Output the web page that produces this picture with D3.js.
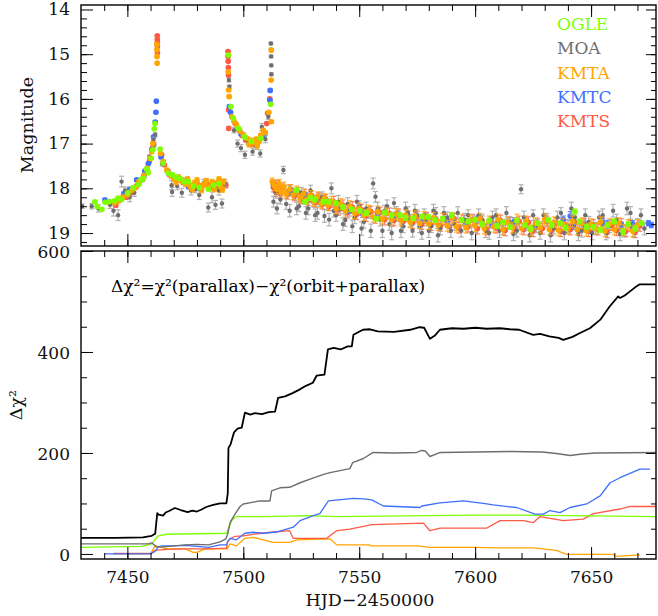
<!DOCTYPE html>
<html>
  <head>
      <meta charset="utf-8">
      <title>Light curve and cumulative chi2</title>
      <script type="text/javascript" src="https://d3js.org/d3.v7.min.js"></script>
      <style>
        body { margin: 0; background: #fff; }
        text { font-family: "DejaVu Serif", serif; }
      </style>
  </head>
  <body>

    <script type="text/javascript">
    var w = 658;
    var h = 616;

    // light curve points: [HJD-2450000, magnitude, error]
    var ogle = [
      [7436.0,18.30,0.03],[7437.0,18.41,0.03],[7439.0,18.47,0.03],[7440.4,18.31,0.03],[7442.0,18.30,0.03],
      [7444.5,18.28,0.03],[7446.0,18.22,0.03],[7447.5,18.25,0.03],[7450.2,18.10,0.03],[7452.5,17.98,0.03],
      [7454.7,17.92,0.03],[7456.0,17.80,0.03],[7456.9,17.78,0.03],[7458.3,17.57,0.03],[7459.0,17.65,0.03],
      [7460.3,17.33,0.02],[7460.9,17.14,0.02],[7461.6,16.67,0.02],[7461.9,16.55,0.02],[7464.1,17.12,0.02],
      [7465.5,17.44,0.02],[7467.7,17.66,0.02],[7469.5,17.70,0.03],[7471.0,17.75,0.03],[7472.7,17.78,0.03],
      [7474.5,17.86,0.03],[7476.3,17.85,0.03],[7478.5,17.95,0.03],[7481.0,17.98,0.03],[7484.9,18.02,0.03],
      [7487.1,17.93,0.03],[7489.5,17.90,0.03],
      [7493.6,15.02,0.02],[7494.7,16.17,0.02],[7495.7,16.43,0.02],[7497.9,16.66,0.02],[7500.7,16.85,0.02],
      [7503.5,16.95,0.03],[7507.6,16.88,0.03],[7511.8,16.12,0.02],
      [7523.0,18.04,0.05],[7526.6,18.30,0.05],[7529.0,18.22,0.05],[7530.9,18.25,0.05],[7534.5,18.30,0.05],
      [7536.7,18.30,0.05],[7540.0,18.33,0.05],[7543.0,18.42,0.05],[7546.8,18.47,0.05],[7550.3,18.50,0.05],
      [7553.0,18.55,0.05],[7557.5,18.68,0.05],[7561.0,18.54,0.05],[7564.0,18.60,0.05],[7567.6,18.60,0.05],
      [7570.0,18.66,0.05],[7573.3,18.67,0.05],[7577.0,18.63,0.05],[7579.8,18.64,0.05],[7582.7,18.71,0.05],
      [7586.0,18.68,0.05],[7589.9,18.60,0.05],[7594.2,18.71,0.05],[7597.0,18.74,0.05],[7600.0,18.70,0.05],
      [7603.0,18.80,0.06],[7606.0,18.72,0.05],[7609.5,18.84,0.06],[7612.0,18.76,0.05],[7615.0,18.86,0.06],
      [7618.0,18.72,0.05],[7621.5,18.82,0.05],[7624.0,18.90,0.06],[7627.0,18.78,0.05],[7631.6,18.71,0.05],
      [7633.0,18.82,0.05],[7636.6,18.78,0.05],[7639.0,18.88,0.06],[7643.0,18.52,0.06],[7645.0,18.74,0.05],
      [7648.0,18.86,0.06],[7651.0,18.86,0.05],[7653.9,18.93,0.06],[7657.0,18.82,0.05],[7660.0,18.74,0.05],
      [7663.8,18.97,0.06],[7666.0,18.80,0.05],[7669.0,18.90,0.06],[7671.8,18.78,0.05]
    ];
    var moa = [
      [7430.5,18.40,0.05],[7434.6,18.40,0.06],[7437.5,18.45,0.08],[7442.5,18.37,0.08],[7444.0,18.50,0.12],
      [7446.0,18.60,0.12],[7447.5,17.85,0.12],[7449.0,18.05,0.08],[7451.0,18.20,0.10],[7453.0,18.10,0.08],
      [7455.5,17.85,0.08],[7457.5,17.70,0.06],[7459.5,17.30,0.05],[7461.2,16.92,0.05],[7461.6,17.02,0.05],
      [7462.0,16.80,0.04],[7465.0,17.45,0.05],[7469.1,17.93,0.10],[7469.3,18.08,0.10],[7471.5,17.95,0.08],
      [7473.5,18.10,0.10],[7475.5,17.85,0.08],[7477.5,18.05,0.10],[7479.2,18.02,0.08],[7481.0,18.15,0.10],
      [7483.0,17.88,0.08],[7484.9,18.43,0.10],[7486.5,18.20,0.12],[7488.0,18.37,0.10],[7489.5,18.05,0.10],
      [7490.8,18.34,0.10],[7492.1,17.89,0.08],
      [7493.8,15.58,0.04],[7494.0,15.73,0.04],[7496.0,16.70,0.06],[7497.5,17.00,0.08],[7499.0,17.10,0.08],
      [7500.7,17.25,0.08],[7502.0,16.95,0.06],[7504.0,17.18,0.08],[7505.5,17.05,0.08],[7507.3,17.22,0.08],
      [7508.0,16.63,0.08],[7509.5,16.90,0.08],[7510.8,16.40,0.06],[7511.9,14.76,0.03],[7511.95,14.90,0.03],
      [7512.0,15.05,0.03],[7512.05,15.25,0.03],[7512.1,15.45,0.03],
      [7513.0,18.30,0.12],[7514.0,18.10,0.12],[7514.5,18.45,0.12],[7516.0,18.25,0.10],[7517.3,17.59,0.08],
      [7518.5,18.35,0.12],[7519.5,18.05,0.12],[7520.0,18.50,0.14],[7522.0,18.15,0.10],[7523.0,18.45,0.14],
      [7524.0,18.40,0.12],[7525.0,18.10,0.12],[7526.0,18.25,0.10],[7527.0,18.55,0.14],[7528.0,18.45,0.14],
      [7529.0,18.05,0.12],[7530.0,18.30,0.12],[7531.0,18.60,0.14],[7532.0,18.55,0.14],[7533.0,18.25,0.12],
      [7534.0,18.20,0.12],[7535.0,18.62,0.14],[7536.0,18.35,0.12],[7537.0,18.70,0.14],[7538.0,18.00,0.12],
      [7539.0,18.50,0.14],[7540.0,18.60,0.14],[7541.0,18.30,0.14],[7542.0,18.45,0.12],[7543.0,18.80,0.14],
      [7544.0,18.71,0.14],[7545.0,18.35,0.14],[7546.0,18.50,0.12],[7547.0,18.85,0.14],[7548.0,18.65,0.14],
      [7549.0,18.30,0.14],[7550.0,18.40,0.12],[7551.0,18.90,0.15],[7552.0,18.75,0.14],[7553.0,18.45,0.14],
      [7554.0,18.55,0.12],[7555.0,18.95,0.15],[7556.0,17.89,0.12],[7557.0,18.19,0.12],[7558.0,18.45,0.14],
      [7559.0,18.70,0.14],[7560.0,18.95,0.15],[7561.0,18.50,0.12],[7562.0,18.40,0.14],[7563.0,18.80,0.14],
      [7564.0,19.00,0.15],[7565.0,18.33,0.12],[7566.0,18.55,0.14],[7567.0,18.62,0.12],[7568.0,18.95,0.15],
      [7569.0,18.85,0.14],[7570.0,18.45,0.14],[7571.0,18.55,0.14],[7572.0,18.72,0.14],[7573.0,18.95,0.14],
      [7574.0,18.50,0.14],[7575.0,18.60,0.12],[7576.0,18.85,0.14],[7577.0,19.00,0.14],[7578.0,18.60,0.14],
      [7579.0,18.70,0.14],[7580.0,18.95,0.15],[7581.0,18.85,0.14],[7582.0,18.50,0.14],[7583.0,18.55,0.12],
      [7584.0,19.05,0.15],[7585.0,18.90,0.14],[7586.5,18.55,0.14],[7588.0,18.65,0.12],[7589.5,18.95,0.15],
      [7591.0,18.80,0.14],[7592.5,18.55,0.14],[7594.0,18.95,0.14],[7595.5,18.70,0.14],[7597.0,18.60,0.12],
      [7598.5,19.00,0.15],[7600.0,18.85,0.14],[7601.5,18.60,0.14],[7603.0,18.70,0.12],[7604.5,18.95,0.15],
      [7606.0,19.00,0.14],[7607.5,18.65,0.14],[7609.0,18.60,0.14],[7610.5,18.95,0.15],[7612.0,18.90,0.14],
      [7613.5,18.55,0.14],[7615.0,18.75,0.12],[7616.5,19.02,0.15],[7618.0,18.95,0.14],[7619.8,18.02,0.10],
      [7621.0,18.65,0.14],[7622.0,18.80,0.14],[7623.5,19.05,0.15],[7625.0,18.60,0.12],[7626.5,18.85,0.14],
      [7628.0,19.00,0.14],[7629.5,18.60,0.14],[7631.0,18.70,0.14],[7632.5,19.05,0.15],[7634.0,18.90,0.12],
      [7635.5,18.65,0.14],[7637.0,18.55,0.12],[7638.5,19.00,0.15],[7640.0,18.85,0.14],[7641.5,18.45,0.14],
      [7643.0,18.65,0.14],[7644.5,19.02,0.15],[7646.0,18.95,0.14],[7647.5,18.60,0.14],[7649.0,18.75,0.12],
      [7650.5,19.00,0.15],[7652.0,18.90,0.14],[7653.5,18.65,0.14],[7655.0,18.60,0.14],[7656.5,19.00,0.15],
      [7658.0,18.85,0.14],[7659.5,18.50,0.14],[7661.0,18.70,0.12],[7662.5,19.02,0.15],[7664.0,18.95,0.14],
      [7665.5,18.45,0.14],[7667.0,18.55,0.14],[7668.5,18.95,0.15],[7670.0,18.80,0.12],[7671.5,18.60,0.14],
      [7673.0,18.90,0.14]
    ];
    var kmta = [
      [7444.5,18.32,0.04],[7446.5,18.28,0.04],[7448.0,18.20,0.04],[7450.0,18.15,0.04],[7452.0,18.04,0.04],
      [7453.5,17.98,0.04],[7455.0,17.85,0.04],[7457.0,17.72,0.04],[7458.5,17.55,0.03],[7459.8,17.33,0.03],
      [7460.5,17.18,0.03],[7461.0,17.00,0.03],
      [7462.7,14.78,0.02],[7462.75,14.90,0.02],[7462.8,15.05,0.02],[7462.85,15.20,0.02],
      [7464.3,17.22,0.03],[7465.5,17.40,0.03],[7467.0,17.59,0.04],[7468.5,17.70,0.05],[7470.0,17.78,0.05],
      [7471.0,17.86,0.06],[7472.0,17.75,0.05],[7473.5,17.82,0.06],[7475.0,17.90,0.06],[7476.0,17.80,0.06],
      [7477.0,17.95,0.06],[7478.0,18.02,0.06],[7479.0,17.88,0.06],[7480.0,17.82,0.06],[7481.0,17.96,0.06],
      [7482.0,18.04,0.06],[7483.0,17.92,0.06],[7484.0,17.84,0.06],[7485.0,17.98,0.06],[7486.5,17.86,0.06],
      [7487.5,18.02,0.06],[7488.5,17.89,0.06],[7489.5,17.80,0.06],[7490.0,17.95,0.06],[7491.0,18.03,0.06],
      [7491.5,17.85,0.06],
      [7493.5,15.40,0.03],[7493.7,15.80,0.03],[7493.9,15.95,0.03],[7495.0,16.40,0.03],[7496.0,16.50,0.03],
      [7497.1,16.58,0.03],[7498.5,16.72,0.04],[7500.0,16.80,0.04],[7501.5,16.88,0.04],[7502.5,17.02,0.05],
      [7503.0,16.92,0.04],[7504.5,16.98,0.04],[7505.5,16.90,0.04],[7506.0,17.05,0.05],[7506.7,16.96,0.04],
      [7507.5,16.82,0.05],[7508.6,16.70,0.04],[7509.5,16.75,0.04],
      [7511.0,16.30,0.03],[7512.0,15.58,0.03],[7512.1,14.91,0.03],[7512.15,16.51,0.03],
      [7512.5,17.85,0.08],[7513.5,17.95,0.10],[7514.5,18.02,0.10],[7515.5,17.90,0.10],[7516.5,18.08,0.10],
      [7517.5,17.96,0.10],[7518.5,18.12,0.10],[7520.0,18.02,0.10],[7521.5,18.15,0.10],[7523.0,18.05,0.10],
      [7524.5,18.22,0.10],[7526.0,18.12,0.10],[7527.5,18.25,0.10],[7529.0,18.15,0.10],[7530.5,18.30,0.10],
      [7532.0,18.18,0.10],[7533.5,18.34,0.10],[7535.0,18.22,0.10],[7536.5,18.38,0.10],[7538.0,18.28,0.10],
      [7540.0,18.45,0.12],[7542.0,18.35,0.12],[7544.0,18.50,0.12],[7546.0,18.40,0.12],[7548.0,18.56,0.12],
      [7550.0,18.45,0.12],[7552.0,18.60,0.12],[7554.0,18.50,0.12],[7556.0,18.64,0.12],[7558.0,18.52,0.12],
      [7560.0,18.68,0.12],[7562.0,18.56,0.12],[7564.0,18.70,0.12],[7566.0,18.58,0.12],[7568.0,18.72,0.12],
      [7570.0,18.60,0.12],[7572.0,18.76,0.12],[7574.0,18.62,0.12],[7576.0,18.78,0.12],[7578.0,18.64,0.12],
      [7580.0,18.80,0.12],[7582.0,18.66,0.12],[7584.0,18.82,0.12],[7586.0,18.68,0.12],[7588.0,18.84,0.12],
      [7590.0,18.66,0.12],[7592.0,18.86,0.12],[7594.0,18.70,0.12],[7596.0,18.88,0.12],[7598.0,18.72,0.12],
      [7600.0,18.84,0.12],[7602.0,18.68,0.12],[7604.0,18.90,0.12],[7606.0,18.74,0.12],[7608.0,18.86,0.12],
      [7610.0,18.70,0.12],[7612.0,18.92,0.12],[7614.0,18.76,0.12],[7616.0,18.88,0.12],[7618.0,18.70,0.12],
      [7620.0,18.90,0.12],[7622.0,18.74,0.12],[7624.0,18.94,0.12],[7626.0,18.78,0.12],[7628.0,18.88,0.12],
      [7630.0,18.70,0.12],[7632.0,18.92,0.12],[7634.0,18.76,0.12],[7636.0,18.94,0.12],[7638.0,18.80,0.12],
      [7640.0,18.90,0.12],[7642.0,18.74,0.12],[7644.0,18.92,0.12],[7646.0,18.78,0.12],[7648.0,18.95,0.12],
      [7650.0,18.80,0.12],[7652.0,18.90,0.12],[7654.0,18.76,0.12],[7656.0,18.96,0.12],[7658.0,18.80,0.12],
      [7660.0,18.92,0.12],[7662.0,18.78,0.12],[7664.0,18.94,0.12],[7666.0,18.82,0.12],[7668.0,18.96,0.12],
      [7670.0,18.82,0.12]
    ];
    var kmtc = [
      [7440.3,18.26,0.04],[7442.0,18.30,0.04],[7448.5,18.12,0.04],[7451.0,18.02,0.04],[7454.0,17.81,0.03],
      [7457.5,17.62,0.03],[7459.0,17.45,0.03],[7460.5,17.14,0.03],[7461.3,16.85,0.03],[7462.0,16.52,0.02],
      [7462.3,16.30,0.02],[7462.5,16.05,0.02],
      [7464.5,17.30,0.03],[7468.0,17.68,0.04],[7476.3,17.96,0.05],[7480.0,18.00,0.05],[7485.5,17.98,0.05],
      [7489.0,17.92,0.05],
      [7494.0,16.17,0.03],[7494.5,16.30,0.03],[7499.0,16.78,0.04],[7503.5,16.95,0.04],[7506.0,17.00,0.04],
      [7509.0,16.80,0.04],[7511.5,16.03,0.03],[7511.6,15.81,0.03],
      [7513.0,17.90,0.08],[7520.5,18.08,0.08],[7527.0,18.18,0.08],[7533.0,18.28,0.08],[7540.0,18.40,0.08],
      [7546.0,18.48,0.08],[7551.5,18.57,0.08],[7558.0,18.56,0.08],[7565.0,18.62,0.08],[7577.5,18.68,0.08],
      [7588.0,18.72,0.08],[7596.0,18.76,0.08],[7600.5,18.70,0.08],[7607.0,18.80,0.08],[7610.0,18.74,0.08],
      [7617.0,18.74,0.08],[7626.0,18.82,0.08],[7638.0,18.70,0.08],[7641.0,18.62,0.10],[7642.5,18.82,0.10],
      [7647.0,18.82,0.08],[7655.0,18.76,0.08],[7657.0,18.80,0.08],[7663.0,18.84,0.08],[7668.0,18.80,0.08],
      [7674.7,18.78,0.06],[7676.0,18.82,0.06]
    ];
    var kmts = [
      [7445.0,18.38,0.04],[7447.0,18.25,0.04],[7449.5,18.20,0.04],[7451.5,18.10,0.04],[7454.0,17.95,0.04],
      [7456.5,17.80,0.04],[7458.0,17.60,0.03],[7459.5,17.40,0.03],[7460.8,17.10,0.03],
      [7462.9,14.59,0.02],[7462.92,14.67,0.02],[7462.94,14.74,0.02],[7462.96,14.83,0.02],[7462.98,14.97,0.02],
      [7464.8,17.25,0.03],[7466.0,17.48,0.03],[7467.5,17.62,0.04],[7469.0,17.72,0.05],[7471.0,17.80,0.05],
      [7474.0,17.86,0.06],[7476.5,17.92,0.06],[7478.0,17.98,0.06],[7480.0,17.90,0.06],[7482.0,17.95,0.06],
      [7484.0,17.88,0.06],[7486.0,17.93,0.06],[7488.0,17.98,0.06],[7490.5,17.88,0.06],[7492.5,17.93,0.06],
      [7493.4,14.94,0.02],[7493.45,15.05,0.02],[7493.5,15.16,0.02],[7493.55,15.30,0.02],[7493.6,15.47,0.02],
      [7493.65,16.25,0.03],[7493.7,16.66,0.03],[7496.5,16.55,0.03],[7498.0,16.68,0.04],[7499.5,16.82,0.04],
      [7501.0,16.92,0.04],[7502.5,16.98,0.04],[7504.0,17.02,0.04],[7505.5,16.98,0.04],[7507.0,16.92,0.04],
      [7508.5,16.82,0.04],[7510.1,16.55,0.03],[7510.5,16.32,0.03],[7511.4,16.00,0.03],
      [7513.0,17.98,0.10],[7514.0,18.08,0.10],[7515.0,17.92,0.10],[7516.0,18.12,0.10],[7517.0,18.00,0.10],
      [7519.0,18.14,0.10],[7520.5,18.02,0.10],[7522.0,18.18,0.10],[7523.5,18.08,0.10],[7525.0,18.24,0.10],
      [7526.5,18.12,0.10],[7528.0,18.28,0.10],[7529.5,18.16,0.10],[7531.0,18.32,0.10],[7532.5,18.20,0.10],
      [7534.0,18.36,0.10],[7535.5,18.24,0.10],[7537.0,18.40,0.10],[7539.0,18.30,0.12],[7541.0,18.48,0.12],
      [7543.0,18.38,0.12],[7545.0,18.54,0.12],[7547.0,18.42,0.12],[7549.0,18.58,0.12],[7551.0,18.48,0.12],
      [7553.0,18.62,0.12],[7555.0,18.52,0.12],[7557.0,18.66,0.12],[7559.0,18.54,0.12],[7561.0,18.70,0.12],
      [7563.0,18.56,0.12],[7565.0,18.72,0.12],[7567.0,18.58,0.12],[7569.0,18.74,0.12],[7571.0,18.62,0.12],
      [7573.0,18.78,0.12],[7575.0,18.64,0.12],[7577.0,18.80,0.12],[7579.0,18.66,0.12],[7581.0,18.82,0.12],
      [7583.0,18.68,0.12],[7585.0,18.84,0.12],[7587.0,18.70,0.12],[7589.0,18.86,0.12],[7591.0,18.68,0.12],
      [7593.0,18.88,0.12],[7595.0,18.72,0.12],[7597.0,18.86,0.12],[7599.0,18.70,0.12],[7601.0,18.90,0.12],
      [7603.0,18.74,0.12],[7605.0,18.92,0.12],[7607.0,18.76,0.12],[7609.0,18.88,0.12],[7611.0,18.72,0.12],
      [7613.0,18.94,0.12],[7615.0,18.78,0.12],[7617.0,18.90,0.12],[7619.0,18.74,0.12],[7621.0,18.92,0.12],
      [7623.0,18.76,0.12],[7625.0,18.96,0.12],[7627.0,18.80,0.12],[7629.0,18.90,0.12],[7631.0,18.74,0.12],
      [7633.0,18.94,0.12],[7635.0,18.78,0.12],[7637.0,18.96,0.12],[7639.0,18.82,0.12],[7641.0,18.92,0.12],
      [7643.0,18.76,0.12],[7645.0,18.94,0.12],[7647.0,18.80,0.12],[7649.0,18.96,0.12],[7651.0,18.82,0.12],
      [7653.0,18.92,0.12],[7655.0,18.78,0.12],[7657.0,18.98,0.12],[7659.0,18.82,0.12],[7661.0,18.94,0.12],
      [7663.0,18.80,0.12],[7665.0,18.96,0.12],[7667.0,18.84,0.12],[7669.0,18.98,0.12],[7671.0,18.84,0.12]
    ];

    // cumulative delta chi2: [HJD-2450000, value]
    var dchiTotal = [
      [7430,32],[7445,32],[7456.7,33],[7460.5,36],[7462.0,40],[7462.9,81],[7463.5,78],[7465.4,76],[7466.5,82],
      [7468,85],[7470.5,91],[7473,87],[7476,83],[7478,86],[7480,84],[7482,88],[7484,93],[7487,97],[7490,100],
      [7492.7,100],[7493.3,120],[7493.6,210],[7494.5,217],[7496,241],[7497.5,248],[7499.3,250],[7500.7,280],
      [7503,276],[7505,279],[7508,277],[7511,281],[7513.7,282],[7515,309],[7518,312],[7521,318],[7524,325],
      [7527,333],[7530,339],[7531.6,353],[7535,355],[7536.5,405],[7539,408],[7542,405],[7545,411],[7546.8,411],
      [7547.5,434],[7551.6,444],[7554.6,445],[7558,441],[7565,440],[7572,444],[7576,449],[7578,448],[7580.5,426],
      [7582.5,432],[7584.8,444],[7590,447],[7595,446],[7600,448],[7605,446],[7610.7,447],[7615,445],[7619,444],
      [7625,434],[7628,436],[7632,431],[7636,428],[7638,424],[7642,430],[7645,437],[7649.5,447],[7654,464],
      [7658,490],[7661.7,510],[7662.5,507],[7664.5,512],[7666.8,520],[7669,528],[7671,534],[7678,534]
    ];
    var dchiMoa = [
      [7430,20],[7459,20],[7460.5,22],[7462.5,14],[7466,14],[7470,16],[7475,18],[7480,19],[7485,18],[7490,24],
      [7492.5,30],[7493.3,40],[7494.3,62],[7496,76],[7498.6,94],[7500,99],[7507,105],[7511.5,105],[7512.2,125],
      [7515.8,131],[7520,132],[7524.5,141],[7530,150],[7535,158],[7537.4,161],[7546,169],[7547.2,181],
      [7551.8,189],[7556,201],[7565,200],[7574.8,201],[7577,205],[7578.5,204],[7580.5,193],[7585,201],
      [7600,202],[7615,203],[7629,202],[7635,199],[7641,195],[7646,198],[7652,200],[7678,201]
    ];
    var dchiOgle = [
      [7430,13],[7456,15],[7460.5,20],[7463.3,36],[7466.9,39],[7480,40],[7492.8,41],[7493.5,50],[7495,66],
      [7497,74],[7510,74],[7528,76],[7540,74],[7560,75],[7600,77],[7620,77],[7640,76],[7660,75],[7678,74]
    ];
    var dchiKmtc = [
      [7440.3,0],[7460,0],[7461.9,5],[7463.4,14],[7465,16],[7470,16],[7475,17],[7480,15],[7485,13],[7490,18],
      [7492.8,18],[7493.2,24],[7494.3,31],[7497,28],[7500.7,41],[7504.3,43],[7508.6,41],[7515,44],[7521.6,53],
      [7524.5,66],[7530.2,76],[7533,80],[7536.7,105],[7547.4,110],[7551.8,109],[7555.4,107],[7560.4,95],
      [7576.2,92],[7577,95],[7584.8,101],[7594.9,105],[7603.5,100],[7607.8,97],[7617.9,92],[7625.8,79],
      [7629.4,79],[7632.3,86],[7636.6,82],[7640.9,92],[7648.1,99],[7653.9,115],[7658.2,141],[7662.5,151],
      [7667,160],[7671.1,168],[7675.4,168]
    ];
    var dchiKmts = [
      [7444,1],[7460,1],[7461.9,7],[7467,9],[7475,10],[7485,10],[7490,11],[7492.8,11],[7493.2,24],[7494.3,30],
      [7496.4,35],[7500,36],[7505.8,40],[7512.3,43],[7520,46],[7521.5,31],[7536,31],[7537.4,36],[7540.3,46],
      [7546,49],[7555.4,58],[7577.7,61],[7580.5,46],[7584.9,51],[7604.9,51],[7610.7,66],[7620.8,66],[7625,62],
      [7628,74],[7638,66],[7646.6,69],[7651,80],[7662.5,89],[7666.8,94],[7678,94]
    ];
    var dchiKmta = [
      [7444,0],[7460,0],[7461.9,16],[7464,14],[7467,10],[7475,10],[7478.4,3],[7480,3],[7483.5,10],[7493,10],
      [7494.3,20],[7497,16],[7500.7,31],[7504.2,33],[7512.9,23],[7520,23],[7523,28],[7537.4,30],[7540.3,18],
      [7554.6,18],[7555,16],[7575,16],[7580.5,13],[7600,13],[7609.3,12],[7625,12],[7629.3,10],[7635,7],
      [7639.5,-1],[7659.5,-1],[7661,-5],[7671,-2]
    ];

    var names = ["OGLE", "MOA", "KMTA", "KMTC", "KMTS"];
    var xTicks = [7450, 7500, 7550, 7600, 7650];
    var magTicks = [14, 15, 16, 17, 18, 19];
    var chiTicks = [0, 200, 400, 600];

    var colors = {OGLE: "#7fff00", MOA: "#6e6e6e", KMTA: "#ffa500", KMTC: "#3f6fff", KMTS: "#ff5a45"};

    var left = 81, right = 656;
    var top1 = 5, bot1 = 246, top2 = 251, bot2 = 559;

    var x = d3.scaleLinear().domain([7430, 7678]).range([left, right]);
    var yMag = d3.scaleLinear().domain([13.9, 19.29]).range([top1, bot1]);
    var yChi = d3.scaleLinear().domain([-10, 600]).range([bot2, top2]);

    var svg = d3.select("body")
                .append("svg")
                .attr("width", w)
                .attr("height", h);

    // clip paths for each panel
    var defs = svg.append("defs");
    defs.append("clipPath").attr("id", "clip1").append("rect")
        .attr("x", left).attr("y", top1).attr("width", right - left).attr("height", bot1 - top1);
    defs.append("clipPath").attr("id", "clip2").append("rect")
        .attr("x", left).attr("y", top2).attr("width", right - left).attr("height", bot2 - top2);

    // ---- top panel: light curve ----
    var lc = svg.append("g").attr("clip-path", "url(#clip1)");
    var sets = [["KMTS", kmts], ["KMTC", kmtc], ["MOA", moa], ["KMTA", kmta], ["OGLE", ogle]];
    sets.forEach(function(s){
      var name = s[0], data = s[1];
      var col = name == "MOA" ? "#a0a0a0" : colors[name];
      var g = lc.append("g");
      var bars = g.selectAll("g.eb").data(data).enter().append("g").attr("class", "eb")
                  .attr("stroke", col).attr("stroke-width", 1.2).attr("opacity", 0.8);
      bars.append("line")
          .attr("x1", function(d){ return x(d[0]); })
          .attr("x2", function(d){ return x(d[0]); })
          .attr("y1", function(d){ return yMag(d[1] - d[2]); })
          .attr("y2", function(d){ return yMag(d[1] + d[2]); });
      bars.append("line")
          .attr("x1", function(d){ return x(d[0]) - 2.5; })
          .attr("x2", function(d){ return x(d[0]) + 2.5; })
          .attr("y1", function(d){ return yMag(d[1] - d[2]); })
          .attr("y2", function(d){ return yMag(d[1] - d[2]); });
      bars.append("line")
          .attr("x1", function(d){ return x(d[0]) - 2.5; })
          .attr("x2", function(d){ return x(d[0]) + 2.5; })
          .attr("y1", function(d){ return yMag(d[1] + d[2]); })
          .attr("y2", function(d){ return yMag(d[1] + d[2]); });
      g.selectAll("circle").data(data).enter().append("circle")
       .attr("cx", function(d){ return x(d[0]); })
       .attr("cy", function(d){ return yMag(d[1]); })
       .attr("r", name == "MOA" ? 2.2 : 2.8)
       .attr("fill", colors[name]);
    });

    // legend
    names.forEach(function(n, i){
      svg.append("text")
         .attr("x", 557).attr("y", 30 + i * 24.3)
         .attr("font-size", "17px")
         .attr("fill", colors[n])
         .text(n);
    });

    // ---- bottom panel: cumulative delta chi2 ----
    var line = d3.line()
                 .x(function(d){ return x(d[0]); })
                 .y(function(d){ return yChi(d[1]); });
    var cp = svg.append("g").attr("clip-path", "url(#clip2)");
    var curves = [
      [dchiKmta, colors.KMTA, 1.3], [dchiKmts, colors.KMTS, 1.3], [dchiOgle, colors.OGLE, 1.3],
      [dchiKmtc, colors.KMTC, 1.3], [dchiMoa, "#6e6e6e", 1.4], [dchiTotal, "#000", 1.8]
    ];
    curves.forEach(function(c){
      cp.append("path")
        .datum(c[0])
        .attr("d", line)
        .attr("fill", "none")
        .attr("stroke", c[1])
        .attr("stroke-width", c[2])
        .attr("stroke-linejoin", "round");
    });

    svg.append("text")
       .attr("x", 111).attr("y", 292)
       .attr("font-size", "17px")
       .text("\u0394\u03c7\u00b2=\u03c7\u00b2(parallax)\u2212\u03c7\u00b2(orbit+parallax)");

    // ---- axes and frames ----
    function minor(lo, hi, step){
      var out = [];
      for (var v = lo; v <= hi + 1e-9; v += step) out.push(+v.toFixed(3));
      return out;
    }
    var xMinor = minor(7440, 7670, 10);

    function addAxis(gen, tx, ty, values, size, labels){
      var g = svg.append("g").attr("transform", "translate(" + tx + "," + ty + ")")
                 .call(gen.tickValues(values).tickSize(size).tickSizeOuter(0)
                          .tickFormat(labels ? d3.format("d") : ""));
      g.select(".domain").remove();
      g.selectAll(".tick line").attr("stroke", "#000").attr("stroke-width", 1);
      g.selectAll("text").attr("font-family", "DejaVu Serif, serif").attr("font-size", "17px").attr("fill", "#111");
      return g;
    }

    // top panel
    addAxis(d3.axisTop(x), 0, top1, xMinor, -6, false);
    addAxis(d3.axisTop(x), 0, top1, xTicks, -12, false);
    addAxis(d3.axisBottom(x), 0, bot1, xMinor, -6, false);
    addAxis(d3.axisBottom(x), 0, bot1, xTicks, -12, false);
    addAxis(d3.axisLeft(yMag), left, 0, minor(14.2, 19.2, 0.2), -6, false);
    addAxis(d3.axisLeft(yMag), left, 0, magTicks, -12, true).call(function(g){
      g.selectAll(".tick text").attr("x", -11).attr("dy", "0.3em");
    });
    addAxis(d3.axisRight(yMag), right, 0, minor(14.2, 19.2, 0.2), -5, false);
    addAxis(d3.axisRight(yMag), right, 0, magTicks, -10, false);

    // bottom panel
    addAxis(d3.axisTop(x), 0, top2, xMinor, -6, false);
    addAxis(d3.axisTop(x), 0, top2, xTicks, -12, false);
    addAxis(d3.axisBottom(x), 0, bot2, xMinor, -6, false);
    addAxis(d3.axisBottom(x), 0, bot2, xTicks, -12, true).call(function(g){
      g.selectAll(".tick text").attr("y", 12);
    });
    addAxis(d3.axisLeft(yChi), left, 0, minor(50, 550, 50), -6, false);
    addAxis(d3.axisLeft(yChi), left, 0, chiTicks, -12, true).call(function(g){
      g.selectAll(".tick text").attr("x", -11).attr("dy", "0.4em");
    });
    addAxis(d3.axisRight(yChi), right, 0, minor(50, 550, 50), -5, false);
    addAxis(d3.axisRight(yChi), right, 0, chiTicks, -10, false);

    svg.append("rect").attr("x", left).attr("y", top1).attr("width", right - left).attr("height", bot1 - top1)
       .attr("fill", "none").attr("stroke", "#000").attr("stroke-width", 1.4);
    svg.append("rect").attr("x", left).attr("y", top2).attr("width", right - left).attr("height", bot2 - top2)
       .attr("fill", "none").attr("stroke", "#000").attr("stroke-width", 1.4);

    // axis titles
    svg.append("text")
       .attr("transform", "translate(33,125) rotate(-90)")
       .attr("text-anchor", "middle")
       .attr("font-size", "17.5px").attr("fill", "#111")
       .text("Magnitude");
    svg.append("text")
       .attr("transform", "translate(22,405) rotate(-90)")
       .attr("text-anchor", "middle")
       .attr("font-size", "17.5px").attr("fill", "#111")
       .text("\u0394\u03c7\u00b2");
    svg.append("text")
       .attr("x", 370).attr("y", 606)
       .attr("text-anchor", "middle")
       .attr("font-size", "17.5px").attr("fill", "#111")
       .text("HJD\u22122450000");
    </script>

  </body>
</html>
